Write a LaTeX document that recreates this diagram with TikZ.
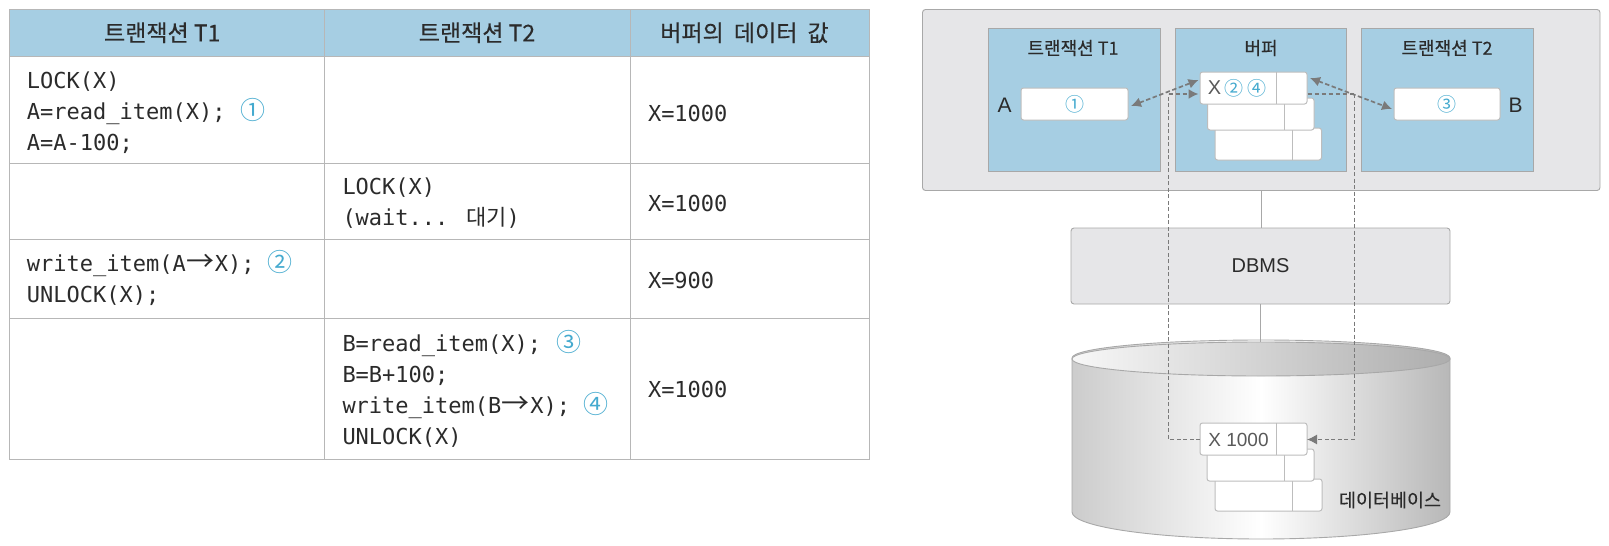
\documentclass[tikz,border=0pt]{standalone}
\usepackage{fontspec}
\setmainfont{Liberation Sans}
\newfontfamily\cjk{Noto Sans CJK KR}
\newfontfamily\cjkm[FakeBold=0.35]{Noto Sans CJK KR}
\newfontfamily\codefont{DejaVu Sans Mono}
\usetikzlibrary{arrows.meta,calc}
\definecolor{hdrblue}{HTML}{A6CEE3}
\definecolor{numblue}{HTML}{45AACF}
\definecolor{tblline}{HTML}{B7B7B7}
\definecolor{panel}{HTML}{E6E6E8}
\definecolor{panelline}{HTML}{A8A8A8}
\definecolor{slotline}{HTML}{BDBDBD}
\definecolor{dashgray}{HTML}{7A7A7A}
\definecolor{inkc}{HTML}{2B2B2B}
\newcommand{\numc}[1]{{\cjk\fontsize{25}{25}\selectfont\color{numblue}#1}}
\newcommand{\arr}{\makebox[29pt][c]{\cjk\fontsize{28}{28}\selectfont →}}
\tikzset{
 x=1pt,y=-1pt,
 every node/.style={inner sep=0pt,outer sep=0pt,text=inkc},
 tcell/.style={draw=tblline,line width=1pt,fill=white},
 hcell/.style={tcell,fill=hdrblue},
 hdrtext/.style={font=\cjkm\fontsize{23}{26}\selectfont},
 code/.style={anchor=west,align=left,font=\codefont\fontsize{22}{31}\selectfont},
 pbox/.style={draw=panelline,line width=.9pt,fill=panel,rounded corners=3pt},
 bluebox/.style={draw=panelline,line width=.9pt,fill=hdrblue},
 slot/.style={draw=slotline,line width=1pt,fill=white,rounded corners=2.5pt},
 ttl/.style={font=\cjkm\fontsize{18}{20}\selectfont},
 lbl/.style={font=\fontsize{21}{24}\selectfont},
 num/.style={font=\cjk\fontsize{19}{19}\selectfont,text=numblue},
 solidline/.style={draw=panelline,line width=.9pt},
 thindash/.style={draw=dashgray,line width=1.1pt,dash pattern=on 4pt off 2.5pt},
 thickdash/.style={draw=dashgray,line width=1.7pt,dash pattern=on 4.5pt off 2.5pt},
 tipdash/.style={thickdash,{Latex[length=10pt,width=10pt]}-{Latex[length=10pt,width=10pt]}},
 onetip/.style={-{Latex[length=10pt,width=10pt]}},
}
\newcommand{\boxat}[6]{% style, name, x1,y1,x2,y2
 \pgfmathsetmacro{\bw}{#5-#3}\pgfmathsetmacro{\bh}{#6-#4}
 \pgfmathsetmacro{\bx}{(#5+#3)/2}\pgfmathsetmacro{\by}{(#6+#4)/2}
 \node[#1,minimum width=\bw pt,minimum height=\bh pt] (#2) at (\bx,\by) {};}
\newcommand{\slotat}[6]{% name,x1,y1,x2,y2,divider
 \boxat{slot}{#1}{#2}{#3}{#4}{#5}
 \draw[draw=slotline,line width=1pt] (#6,#3) -- (#6,#5);}
\begin{document}
\begin{tikzpicture}
\useasboundingbox (0,0) rectangle (1609,546);
% table
\boxat{hcell}{h1}{9.5}{9.5}{324}{56}
\boxat{hcell}{h2}{324}{9.5}{630}{56}
\boxat{hcell}{h3}{630}{9.5}{869}{56}
\boxat{tcell}{a1}{9.5}{56}{324}{163}
\boxat{tcell}{a2}{324}{56}{630}{163}
\boxat{tcell}{a3}{630}{56}{869}{163}
\boxat{tcell}{b1}{9.5}{163}{324}{239}
\boxat{tcell}{b2}{324}{163}{630}{239}
\boxat{tcell}{b3}{630}{163}{869}{239}
\boxat{tcell}{c1}{9.5}{239}{324}{318}
\boxat{tcell}{c2}{324}{239}{630}{318}
\boxat{tcell}{c3}{630}{239}{869}{318}
\boxat{tcell}{d1}{9.5}{318}{324}{459}
\boxat{tcell}{d2}{324}{318}{630}{459}
\boxat{tcell}{d3}{630}{318}{869}{459}
\node[hdrtext] (ht1) at ([xshift=-4.5pt]h1.center) {트랜잭션 T1};
\node[hdrtext] (ht2) at (h2) {트랜잭션 T2};
\node[hdrtext] (ht3) at ([xshift=-5pt]h3.center) {버퍼의\hspace{5pt} 데이터\hspace{5pt} 값};
\node[code] (ta1) at (27,113) {LOCK(X)\\A=read\_item(X);\hspace{15pt}\numc{①}\\A=A-100;};
\node[code] (tb2) at (342.5,203) {LOCK(X)\\(wait... {\cjk 대기})};
\node[code] (tc1) at (27,278) {write\_item(A\arr X);\hspace{13pt}\numc{②}\\UNLOCK(X);};
\node[code] (td2) at (342.5,389) {B=read\_item(X);\hspace{15pt}\numc{③}\\B=B+100;\\write\_item(B\arr X);\hspace{13pt}\numc{④}\\UNLOCK(X)};
\node[code] (va) at (648,113) {X=1000};
\node[code] (vb) at (648,203) {X=1000};
\node[code] (vc) at (648,280) {X=900};
\node[code] (vd) at (648,389) {X=1000};
% memory panel
\boxat{pbox}{mem}{922.5}{9.5}{1600}{190.5}
\boxat{bluebox}{pt1}{988.5}{28}{1160}{171.5}
\boxat{bluebox}{pbuf}{1175}{28}{1346.5}{171.5}
\boxat{bluebox}{pt2}{1361}{28}{1533.5}{171.5}
\node[ttl] (tt1) at (1073,48) {트랜잭션 T1};
\node[ttl] (tbuf) at (1261,48) {버퍼};
\node[ttl] (tt2) at (1447,48) {트랜잭션 T2};
\boxat{slot}{va1}{1021}{88}{1128}{120}
\boxat{slot}{vb1}{1394}{88}{1500}{120}
\node[num] (n1) at (va1) {①};
\node[num] (n3) at (vb1) {③};
\node[lbl] (la) at (1004.5,105) {A};
\node[lbl] (lb) at (1515.5,105) {B};
\slotat{bf3}{1215}{128}{1321.5}{160}{1292.5}
\slotat{bf2}{1207.5}{98}{1314}{130}{1284.5}
\slotat{bf1}{1200}{72}{1307}{104}{1276.5}
\node[font=\fontsize{20}{20}\selectfont,text=black!65] (bx) at (1214.5,88) {X};
\node[num] (n2) at (1234,88) {②};
\node[num] (n4) at (1257,88) {④};
% DBMS
\boxat{pbox}{dbms}{1071}{228}{1450}{304}
\node[font=\fontsize{20}{22}\selectfont] (dbmst) at (dbms) {DBMS};
% cylinder
\shade[left color=black!20,right color=black!28,middle color=white,draw=panelline,line width=.9pt]
 (1072,358) -- (1072,512) arc[start angle=180,end angle=360,x radius=189,y radius=-27] -- (1450,358)
 arc[start angle=0,end angle=180,x radius=189,y radius=-18] -- cycle;
\shade[left color=black!3,right color=black!32,draw=panelline,line width=.9pt]
 (1261,359) ellipse [x radius=189,y radius=17];
\coordinate (dbtop) at (1260.5,342);
\draw[solidline] (mem.south -| tbuf) -- (dbms.north -| tbuf);
\draw[solidline] (dbms.south -| dbtop) -- (dbtop);
\slotat{db3}{1215}{479}{1322}{511}{1292}
\slotat{db2}{1207}{449}{1314}{481}{1284}
\slotat{db1}{1200}{423}{1307}{455}{1276.5}
\node[font=\fontsize{19}{20}\selectfont,text=black!65] (dbx) at (1238.5,439.5) {X 1000};
\node[font=\cjkm\fontsize{18.5}{18}\selectfont] (dbn) at (1390,500) {데이터베이스};
% connectors
\coordinate (bl) at (1168.5,94);
\coordinate (br) at (1354.5,94);
\coordinate (bfla) at (1198.5,80);
\coordinate (bflb) at (1198.5,94);
\coordinate (bfrs) at (1307.5,94);
\coordinate (bfra) at (1310,78);
\coordinate (arrA) at (1131,106);
\coordinate (arrB) at (1392,109);
\coordinate (dbla) at (1168.5,439.5);
\coordinate (dbra) at (1354.5,439.5);
\draw[thindash] (db1.west |- dbla) -- (dbla) -- (bl);
\draw[thickdash,onetip] (bl) -- (bflb);
\draw[tipdash] (arrA) -- (bfla);
\draw[thickdash] (bfrs) -- (br);
\draw[thindash] (br) -- (dbra);
\draw[thindash,onetip] (dbra) -- (db1.east |- dbra);
\draw[tipdash] (bfra) -- (arrB);
\end{tikzpicture}
\end{document}
